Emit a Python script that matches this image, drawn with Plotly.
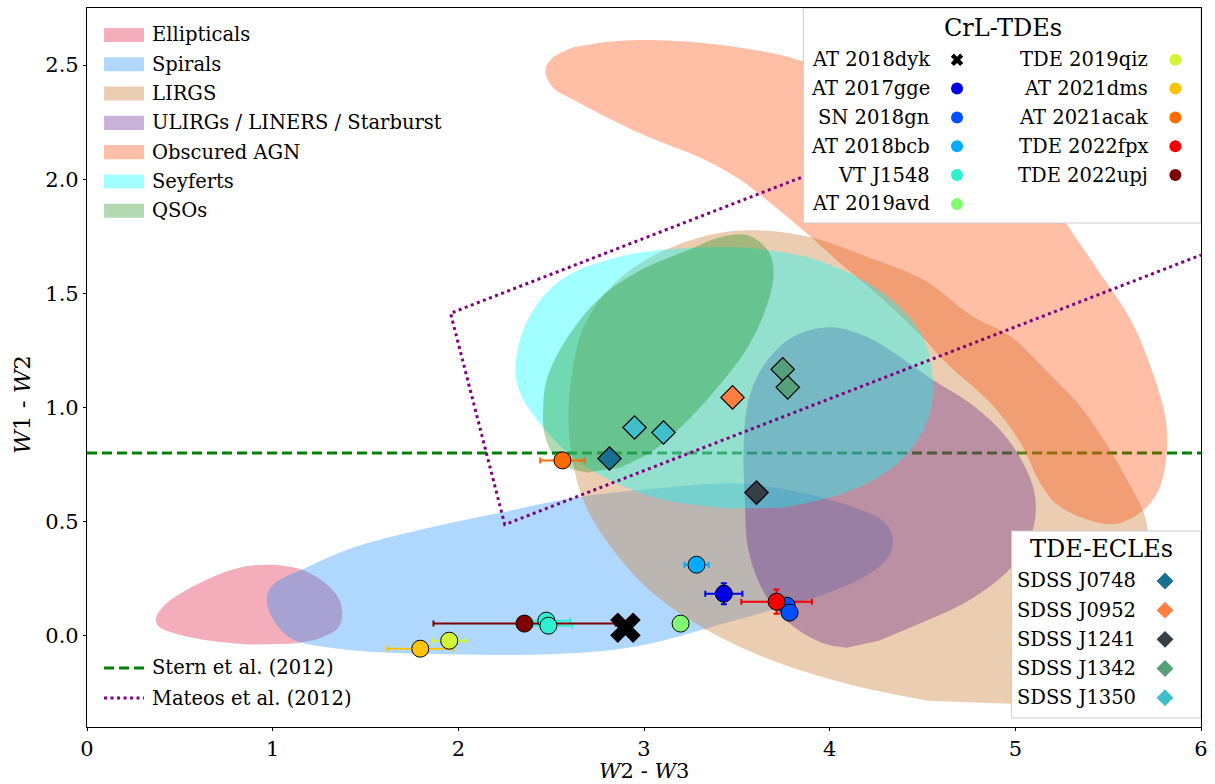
import plotly.graph_objects as go

FONT = "DejaVu Serif"

# ---------------------------------------------------------------------------
# Axis ranges
X_RANGE = [0, 6]
Y_RANGE = [-0.4, 2.75]
x_ticks = [0, 1, 2, 3, 4, 5, 6]
y_ticks = [0.0, 0.5, 1.0, 1.5, 2.0, 2.5]

# ---------------------------------------------------------------------------
# Loci of galaxy classes in the WISE colour-colour plane (outline vertices)
region_names = ["Ellipticals", "Spirals", "LIRGS", "ULIRGs / LINERS / Starburst",
                "Obscured AGN", "Seyferts", "QSOs"]
region_colors = ["rgba(220,20,60,0.35)", "rgba(30,144,255,0.35)",
                 "rgba(205,133,63,0.4)", "rgba(75,0,130,0.3)",
                 "rgba(255,69,0,0.35)", "rgba(0,255,255,0.37)",
                 "rgba(0,128,0,0.3)"]

ellipticals_x = [0.884, 0.668, 0.480, 0.383, 0.372, 0.420, 0.501, 0.668, 0.819, 0.965,
                 1.137, 1.267, 1.353, 1.375, 1.353, 1.245, 1.094]
ellipticals_y = [-0.039, -0.022, 0.009, 0.044, 0.079, 0.136, 0.184, 0.254, 0.298, 0.311,
                 0.294, 0.241, 0.167, 0.096, 0.035, -0.013, -0.035]

spirals_x = [1.779, 1.353, 1.094, 0.987, 0.970, 1.008, 1.181, 1.434, 1.779, 2.205, 2.631,
             3.057, 3.520, 3.871, 4.135, 4.286, 4.334, 4.334, 4.286, 4.178, 3.978, 3.736,
             3.429, 3.100, 2.879, 2.550, 2.200]
spirals_y = [-0.079, -0.057, -0.009, 0.096, 0.175, 0.228, 0.298, 0.386, 0.461, 0.535, 0.605,
             0.645, 0.667, 0.623, 0.561, 0.504, 0.447, 0.373, 0.316, 0.254, 0.184, 0.123,
             0.053, -0.022, -0.057, -0.079, -0.085]

lirgs_x = [4.528, 4.092, 3.650, 3.278, 2.992, 2.771, 2.668, 2.615, 2.593, 2.615, 2.674,
           2.819, 3.035, 3.305, 3.558, 3.898, 4.221, 4.512, 4.760, 4.981, 5.191, 5.337,
           5.461, 5.574, 5.693, 5.714, 5.677, 5.569, 5.353, 5.137, 4.970]
lirgs_y = [-0.285, -0.211, -0.096, 0.053, 0.228, 0.447, 0.605, 0.768, 0.943, 1.162, 1.351,
           1.526, 1.658, 1.746, 1.776, 1.746, 1.654, 1.557, 1.404, 1.307, 1.140, 1.018,
           0.877, 0.724, 0.535, 0.447, 0.154, -0.110, -0.241, -0.285, -0.298]

ulirgs_x = [4.092, 3.957, 3.784, 3.650, 3.563, 3.542, 3.536, 3.558, 3.628, 3.752, 3.871,
            4.022, 4.205, 4.383, 4.561, 4.733, 4.895, 5.003, 5.084, 5.111, 5.084, 4.976,
            4.749, 4.485, 4.264]
ulirgs_y = [-0.053, -0.031, 0.053, 0.184, 0.373, 0.623, 0.798, 1.018, 1.162, 1.281, 1.333,
            1.351, 1.307, 1.219, 1.118, 1.031, 0.921, 0.811, 0.680, 0.570, 0.439, 0.298,
            0.154, 0.053, -0.022]

agn_x = [2.792, 2.976, 3.332, 3.687, 3.876, 4.383, 4.922, 5.191, 5.288, 5.456, 5.623,
         5.736, 5.811, 5.811, 5.763, 5.666, 5.547, 5.407, 5.218, 5.127, 5.030, 4.868,
         4.631, 4.464, 4.275, 4.038, 3.876, 3.709, 3.520, 3.332, 2.976, 2.625, 2.507,
         2.469, 2.507, 2.625]
agn_y = [2.601, 2.610, 2.596, 2.553, 2.513, 2.390, 2.127, 1.908, 1.789, 1.588, 1.382,
         1.162, 0.943, 0.768, 0.623, 0.535, 0.491, 0.504, 0.579, 0.680, 0.842, 1.018,
         1.193, 1.338, 1.482, 1.645, 1.763, 1.877, 1.996, 2.083, 2.202, 2.346, 2.404,
         2.478, 2.531, 2.579]

seyferts_x = [3.482, 3.127, 2.857, 2.620, 2.426, 2.334, 2.307, 2.372, 2.550, 2.857, 3.213,
              3.574, 3.935, 4.291, 4.491, 4.555, 4.528, 4.383, 4.113, 3.752]
seyferts_y = [0.557, 0.592, 0.667, 0.781, 0.943, 1.061, 1.175, 1.382, 1.557, 1.658, 1.697,
              1.697, 1.645, 1.500, 1.325, 1.132, 0.943, 0.768, 0.636, 0.561]

qsos_x = [2.695, 2.550, 2.469, 2.458, 2.480, 2.588, 2.765, 2.981, 3.235, 3.412, 3.558,
          3.666, 3.698, 3.666, 3.558, 3.396, 3.235, 3.051, 2.873]
qsos_y = [0.715, 0.754, 0.868, 1.018, 1.132, 1.307, 1.482, 1.601, 1.689, 1.746, 1.754,
          1.689, 1.601, 1.456, 1.263, 1.088, 0.943, 0.811, 0.737]

region_outlines = [(ellipticals_x, ellipticals_y), (spirals_x, spirals_y),
                   (lirgs_x, lirgs_y), (ulirgs_x, ulirgs_y), (agn_x, agn_y),
                   (seyferts_x, seyferts_y), (qsos_x, qsos_y)]

# ---------------------------------------------------------------------------
# AGN selection criteria
stern_w12 = 0.8                     # Stern et al. (2012): W1-W2 >= 0.8
mateos_slope = 0.315                # Mateos et al. (2012) wedge
mateos_top = 0.796
mateos_bottom = -0.222
mateos_edge_slope = -3.172
mateos_edge_icpt = 7.624

# ---------------------------------------------------------------------------
# Coronal-line TDEs
crl_names = ["AT 2018dyk", "AT 2017gge", "SN 2018gn", "AT 2018bcb", "VT J1548",
             "AT 2019avd", "TDE 2019qiz", "AT 2021dms", "AT 2021acak", "TDE 2022fpx",
             "TDE 2022upj"]
crl_colors = ["#000000", "#0000e8", "#0050ff", "#00aaff", "#2df2d0", "#80fa70",
              "#d4f535", "#ffc30a", "#ff6a00", "#f50000", "#7f0000"]
crl_w23 = [[2.90], [3.43], [3.768, 3.784], [3.283], [2.474, 2.485], [3.197],
           [1.951], [1.795], [2.561], [3.714], [2.356]]
crl_w12 = [[0.035], [0.184], [0.132, 0.101], [0.311], [0.066, 0.044], [0.053],
           [-0.022], [-0.057], [0.768], [0.149], [0.053]]
crl_w23_err = [[0.0], [0.10], [0.02, 0.02], [0.065], [0.13, 0.13], [0.04],
               [0.09], [0.178], [0.12], [0.19], [0.49]]
crl_w12_err = [[0.0], [0.046], [0.01, 0.01], [0.01], [0.01, 0.01], [0.01],
               [0.01], [0.01], [0.01], [0.053], [0.01]]

# TDEs with extreme coronal lines
ecle_names = ["SDSS J0748", "SDSS J0952", "SDSS J1241", "SDSS J1342", "SDSS J1350"]
ecle_colors = ["#17708f", "#ff7f40", "#343f46", "#55a07a", "#40bfcb"]
ecle_w23 = [[2.814], [3.477], [3.606], [3.747, 3.774], [2.949, 3.105]]
ecle_w12 = [[0.776], [1.044], [0.627], [1.167, 1.088], [0.912, 0.890]]

# ---------------------------------------------------------------------------
fig = go.Figure()

# Stern et al. line sits beneath the class loci
fig.add_trace(go.Scatter(x=X_RANGE, y=[stern_w12, stern_w12], mode="lines",
                         line=dict(color="green", width=3, dash="10px,5px"),
                         showlegend=False, hoverinfo="skip"))

for name, color, (xs, ys) in zip(region_names, region_colors, region_outlines):
    fig.add_trace(go.Scatter(x=xs, y=ys, mode="lines", fill="toself", fillcolor=color,
                             line=dict(width=0, shape="spline", smoothing=1.0),
                             name=name, showlegend=False, hoverinfo="skip"))

# Mateos et al. wedge
xc_top = (mateos_edge_icpt - mateos_top) / (mateos_slope - mateos_edge_slope)
xc_bot = (mateos_edge_icpt - mateos_bottom) / (mateos_slope - mateos_edge_slope)
wedge_x = [X_RANGE[1], xc_top, xc_bot, X_RANGE[1]]
wedge_y = [mateos_slope * X_RANGE[1] + mateos_top, mateos_slope * xc_top + mateos_top,
           mateos_slope * xc_bot + mateos_bottom, mateos_slope * X_RANGE[1] + mateos_bottom]
fig.add_trace(go.Scatter(x=wedge_x, y=wedge_y, mode="lines",
                         line=dict(color="purple", width=3, dash="3px,3.5px"),
                         showlegend=False, hoverinfo="skip"))

# error bars first so every marker is drawn above all of them
for i, name in enumerate(crl_names):
    if max(crl_w23_err[i]) == 0 and max(crl_w12_err[i]) == 0:
        continue
    fig.add_trace(go.Scatter(
        x=crl_w23[i], y=crl_w12[i], mode="markers",
        marker=dict(size=2, color="rgba(0,0,0,0)"),
        error_x=dict(type="data", array=crl_w23_err[i], color=crl_colors[i],
                     thickness=2, width=3),
        error_y=dict(type="data", array=crl_w12_err[i], color=crl_colors[i],
                     thickness=2, width=3),
        showlegend=False, hoverinfo="skip"))

for i, name in enumerate(crl_names):
    if name == "AT 2018dyk":
        marker = dict(symbol="x", size=27, color=crl_colors[i], line=dict(width=0))
    else:
        marker = dict(symbol="circle", size=17, color=crl_colors[i],
                      line=dict(color="black", width=1))
    fig.add_trace(go.Scatter(x=crl_w23[i], y=crl_w12[i], mode="markers", marker=marker,
                             name=name, showlegend=False))

for i, name in enumerate(ecle_names):
    fig.add_trace(go.Scatter(x=ecle_w23[i], y=ecle_w12[i], mode="markers",
                             marker=dict(symbol="diamond", size=18, color=ecle_colors[i],
                                         line=dict(color="black", width=1.2)),
                             name=name, showlegend=False))

# ---------------------------------------------------------------------------
# Legend panels, drawn on an overlay in plot-area fractions
def panel(x0, x1, y0, y1):
    fig.add_trace(go.Scatter(x=[x0, x1, x1, x0, x0], y=[y0, y0, y1, y1, y0],
                             mode="lines", fill="toself", fillcolor="white",
                             line=dict(color="#cccccc", width=1),
                             xaxis="x2", yaxis="y2", showlegend=False, hoverinfo="skip"))

annotations = []

def label(x, y, text, anchor="right", size=19.5, angle=0):
    annotations.append(dict(x=x, y=y, xref="paper", yref="paper", text=text,
                            showarrow=False, xanchor=anchor, yanchor="middle",
                            textangle=angle,
                            font=dict(family=FONT, size=size, color="black")))

# CrL-TDEs panel
panel(0.643, 1.0, 0.701, 1.0)
label(0.822, 0.972, "CrL-TDEs", anchor="center", size=24)
row0, step = 0.928, 0.0401
left_rows = crl_names[:6]
right_rows = crl_names[6:]
for col, names, tx, mx in [(0, left_rows, 0.7585, 0.781), (6, right_rows, 0.954, 0.977)]:
    for r, name in enumerate(names):
        i = col + r
        yy = row0 - r * step
        label(tx, yy, name)
        if name == "AT 2018dyk":
            mk = dict(symbol="x", size=11, color=crl_colors[i], line=dict(width=0))
        else:
            mk = dict(symbol="circle", size=12, color=crl_colors[i], line=dict(width=0))
        fig.add_trace(go.Scatter(x=[mx], y=[yy], mode="markers", marker=mk,
                                 xaxis="x2", yaxis="y2", showlegend=False,
                                 hoverinfo="skip", cliponaxis=False))

# TDE-ECLEs panel
panel(0.830, 1.0, 0.0125, 0.2726)
label(0.911, 0.2476, "TDE-ECLEs", anchor="center", size=24)
for r, name in enumerate(ecle_names):
    yy = 0.2031 - r * 0.0406
    label(0.9434, yy, name)
    fig.add_trace(go.Scatter(x=[0.9677], y=[yy], mode="markers",
                             marker=dict(symbol="diamond", size=13, color=ecle_colors[r],
                                         line=dict(width=0)),
                             xaxis="x2", yaxis="y2", showlegend=False,
                             hoverinfo="skip", cliponaxis=False))

# class loci key (no frame)
shapes = []
for r, (name, color) in enumerate(zip(region_names, region_colors)):
    yy = 0.9625 - r * 0.04075
    shapes.append(dict(type="rect", xref="paper", yref="paper", x0=0.0153, x1=0.0512,
                       y0=yy - 0.0098, y1=yy + 0.0098, fillcolor=color,
                       line=dict(width=0), layer="above"))
    label(0.0566, yy, name, anchor="left")

# criteria key
for yy, name, color, dash in [(0.0821, "Stern et al. (2012)", "green", "10px,5px"),
                              (0.0403, "Mateos et al. (2012)", "purple", "3px,3.5px")]:
    shapes.append(dict(type="line", xref="paper", yref="paper", x0=0.0153, x1=0.0512,
                       y0=yy, y1=yy, line=dict(color=color, width=3, dash=dash),
                       layer="above"))
    label(0.0566, yy, name, anchor="left")

# axis titles
label(0.5, -0.0612, "<i>W</i>2 - <i>W</i>3", anchor="center", size=21)
label(-0.0583, 0.448, "<i>W</i>1 - <i>W</i>2", anchor="center", size=23, angle=-90)

axis_common = dict(showgrid=False, zeroline=False, showline=True, linecolor="black",
                   linewidth=1.2, mirror=True, ticks="outside", ticklen=3, tickwidth=1.2,
                   tickcolor="black", automargin=False,
                   tickfont=dict(family=FONT, size=21, color="black"))

fig.update_layout(
    width=1215, height=784,
    margin=dict(l=87, r=14, t=8, b=57, autoexpand=False),
    paper_bgcolor="white", plot_bgcolor="white",
    showlegend=False,
    xaxis=dict(range=X_RANGE, tickvals=x_ticks, **axis_common),
    yaxis=dict(range=Y_RANGE, tickvals=y_ticks, tickformat=".1f", **axis_common),
    xaxis2=dict(overlaying="x", range=[0, 1], visible=False, fixedrange=True),
    yaxis2=dict(overlaying="y", range=[0, 1], visible=False, fixedrange=True),
    annotations=annotations,
    shapes=shapes,
)

fig.write_html("out.html")
